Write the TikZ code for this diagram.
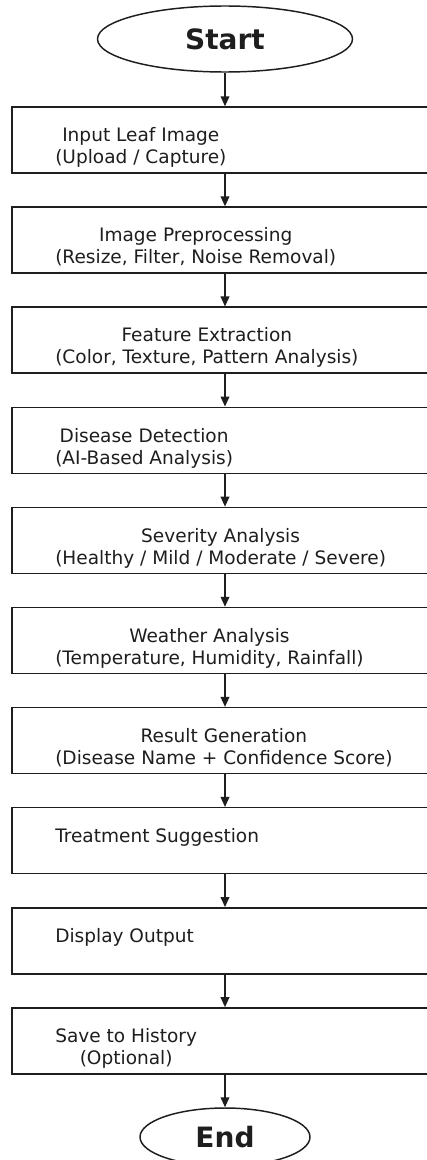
\documentclass[tikz,border=0pt]{standalone}
\usepackage{fontspec}
\setmainfont{DejaVu Sans}
\usetikzlibrary{shapes.geometric,arrows.meta}
\definecolor{ink}{HTML}{1E1E1E}
\begin{document}
\begin{tikzpicture}[x=0.75pt,y=-0.75pt,
  box/.style={draw=ink,line width=1.1pt,minimum width=319.5pt,minimum height=49.5pt,inner sep=0pt,fill=white},
  term/.style={ellipse,draw=ink,line width=1.1pt,inner sep=0pt,fill=white,text=ink,font=\bfseries\fontsize{21}{25}\selectfont},
  lbl/.style={anchor=base west,inner sep=0pt,text=ink,font=\fontsize{13.9}{16.5}\selectfont},
  arr/.style={draw=ink,line width=1.1pt,-{Triangle[length=7.5pt,width=6.5pt]}}]
\useasboundingbox (0,0) rectangle (426,1160);
\fill[white] (0,0) rectangle (426,1160);

\node[term,minimum width=191.25pt,minimum height=49.5pt] (s) at (225,39) {Start};

\node[box] (b1)  at (225,140.0) {};
\node[box] (b2)  at (225,240.1) {};
\node[box] (b3)  at (225,340.2) {};
\node[box] (b4)  at (225,440.3) {};
\node[box] (b5)  at (225,540.4) {};
\node[box] (b6)  at (225,640.5) {};
\node[box] (b7)  at (225,740.6) {};
\node[box] (b8)  at (225,840.7) {};
\node[box] (b9)  at (225,940.8) {};
\node[box] (b10) at (225,1040.9) {};

\node[term,minimum width=127.5pt,minimum height=43.5pt] (e) at (225,1137) {End};

\node[lbl] (t1)  at (55,141.7)  {\begin{tabular}[t]{@{}c@{}}Input Leaf Image\\(Upload / Capture)\end{tabular}};
\node[lbl] (t2)  at (55,241.8)  {\begin{tabular}[t]{@{}c@{}}Image Preprocessing\\(Resize, Filter, Noise Removal)\end{tabular}};
\node[lbl] (t3)  at (55,341.9)  {\begin{tabular}[t]{@{}c@{}}Feature Extraction\\(Color, Texture, Pattern Analysis)\end{tabular}};
\node[lbl] (t4)  at (55,442.0)  {\begin{tabular}[t]{@{}c@{}}Disease Detection\\(AI-Based Analysis)\end{tabular}};
\node[lbl] (t5)  at (55,542.1)  {\begin{tabular}[t]{@{}c@{}}Severity Analysis\\(Healthy / Mild / Moderate / Severe)\end{tabular}};
\node[lbl] (t6)  at (55,642.2)  {\begin{tabular}[t]{@{}c@{}}Weather Analysis\\(Temperature, Humidity, Rainfall)\end{tabular}};
\node[lbl] (t7)  at (55,742.3)  {\begin{tabular}[t]{@{}c@{}}Result Generation\\(Disease Name + Confidence Score)\end{tabular}};
\node[lbl] (t8)  at (55,842.4)  {\begin{tabular}[t]{@{}c@{}}Treatment Suggestion\end{tabular}};
\node[lbl] (t9)  at (55,942.5)  {\begin{tabular}[t]{@{}c@{}}Display Output\end{tabular}};
\node[lbl] (t10) at (55,1042.6) {\begin{tabular}[t]{@{}c@{}}Save to History\\(Optional)\end{tabular}};

\draw[arr] (s.south) -- (b1.north);
\draw[arr] (b1.south) -- (b2.north);
\draw[arr] (b2.south) -- (b3.north);
\draw[arr] (b3.south) -- (b4.north);
\draw[arr] (b4.south) -- (b5.north);
\draw[arr] (b5.south) -- (b6.north);
\draw[arr] (b6.south) -- (b7.north);
\draw[arr] (b7.south) -- (b8.north);
\draw[arr] (b8.south) -- (b9.north);
\draw[arr] (b9.south) -- (b10.north);
\draw[arr] (b10.south) -- (e.north);
\end{tikzpicture}
\end{document}
